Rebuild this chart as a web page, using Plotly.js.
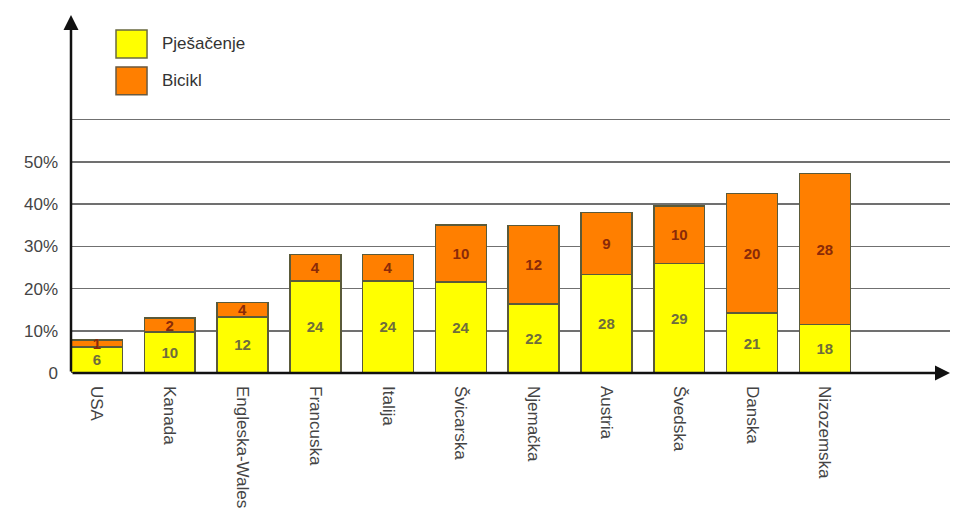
<!DOCTYPE html>
<html>
<head>
<meta charset="utf-8">
<script src="https://cdn.plot.ly/plotly-3.0.1.min.js"></script>
<style>html,body{margin:0;padding:0;background:#fff;}#chart{width:953px;height:520px;}</style>
</head>
<body>
<div id="chart"></div>
<script>
var countries = ['USA','Kanada','Engleska-Wales','Francuska','Italija','Švicarska','Njemačka','Austria','Švedska','Danska','Nizozemska'];
var walkLabels = [6,10,12,24,24,24,22,28,29,21,18];
var bikeLabels = [1,2,4,4,4,10,12,9,10,20,28];
var walkHeights = [6.2,9.7,13.3,21.8,21.8,21.5,16.4,23.3,25.9,14.2,11.5];
var bikeHeights = [1.6,3.3,3.4,6.3,6.3,13.6,18.5,14.7,13.7,28.3,35.7];
var yTickVals = [0,10,20,30,40,50,60];
var yTickText = ['0','10%','20%','30%','40%','50%',''];
var seriesNames = ['Pješačenje','Bicikl'];
var seriesColors = ['#ffff00','#ff7f00'];

var outline = {color:'#5a5a3a', width:1.5};
var traces = [
  {type:'bar', name:seriesNames[0], x:countries, y:walkHeights, text:walkLabels.map(String),
   textposition:'inside', insidetextanchor:'middle', constraintext:'none', textangle:0,
   textfont:{family:'Liberation Sans, Arial, sans-serif', size:15, weight:'bold', color:'#6e6d3c'},
   marker:{color:seriesColors[0], line:outline}, hoverinfo:'none'},
  {type:'bar', name:seriesNames[1], x:countries, y:bikeHeights, text:bikeLabels.map(String),
   textposition:'inside', insidetextanchor:'middle', constraintext:'none', textangle:0,
   textfont:{family:'Liberation Sans, Arial, sans-serif', size:15, weight:'bold', color:'#8a2a08'},
   marker:{color:seriesColors[1], line:outline}, hoverinfo:'none'}
];

var layout = {
  width:953, height:520,
  margin:{l:71, r:3, t:15, b:147},
  paper_bgcolor:'#fff', plot_bgcolor:'#fff',
  barmode:'stack', bargap:0.3,
  showlegend:false,
  font:{family:'Liberation Sans, Arial, sans-serif', color:'#444'},
  xaxis:{type:'category', range:[-0.357, 11.72], showgrid:false, zeroline:false,
    showline:false, ticks:'', tickangle:90, ticklabelstandoff:12,
    tickfont:{size:17, color:'#444'}},
  yaxis:{range:[0, 84.8], tickvals:yTickVals, ticktext:yTickText,
    showgrid:true, gridcolor:'#707070', gridwidth:1.5, zeroline:false,
    showline:false, ticks:'', ticklabelstandoff:12,
    tickfont:{size:17, color:'#444'}},
  shapes:[
    {type:'rect', xref:'paper', yref:'paper', x0:0.0512, x1:0.0865, y0:0.880, y1:0.958,
     fillcolor:seriesColors[0], line:{color:'#6a6a40', width:1.5}},
    {type:'rect', xref:'paper', yref:'paper', x0:0.0512, x1:0.0865, y0:0.777, y1:0.855,
     fillcolor:seriesColors[1], line:{color:'#6a5a40', width:1.5}}
  ],
  annotations:[
    {xref:'paper', yref:'paper', x:0.101, y:0.919, xanchor:'left', yanchor:'middle',
     text:seriesNames[0], showarrow:false, font:{size:17, color:'#333'}},
    {xref:'paper', yref:'paper', x:0.101, y:0.816, xanchor:'left', yanchor:'middle',
     text:seriesNames[1], showarrow:false, font:{size:17, color:'#333'}},
    {xref:'paper', yref:'paper', x:0, y:1, ax:0, ay:358, text:'', showarrow:true,
     arrowhead:2, arrowsize:1.2, arrowwidth:2.5, arrowcolor:'#111', standoff:0, startstandoff:0},
    {xref:'paper', yref:'paper', x:1, y:0, ax:-879, ay:0, text:'', showarrow:true,
     arrowhead:2, arrowsize:1.2, arrowwidth:2.5, arrowcolor:'#111', standoff:0, startstandoff:0}
  ]
};

Plotly.newPlot('chart', traces, layout, {staticPlot:true, displayModeBar:false});
</script>
</body>
</html>
